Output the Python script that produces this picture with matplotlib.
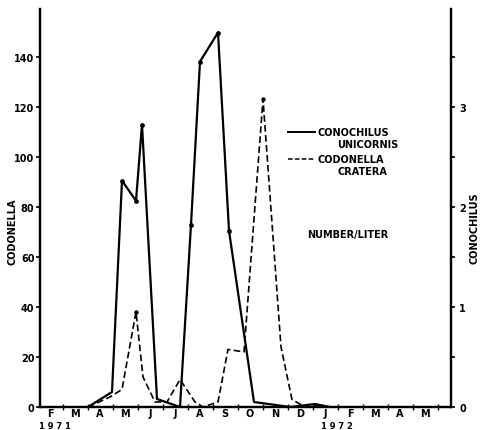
import matplotlib
matplotlib.use('Agg')
from matplotlib import pyplot as plt

# months counted from 1 Jan 1971 (fractional)
cono_t = [3.02, 3.98, 4.38, 4.94, 5.18, 5.78, 6.70, 7.14, 7.50, 8.22, 8.66, 9.66, 11.10, 12.10, 12.70]
cono_n = [0.0, 0.15, 2.26, 2.06, 2.82, 0.08, 0.0, 1.82, 3.45, 3.74, 1.76, 0.05, 0.0, 0.03, 0.0]

codo_t = [3.02, 3.90, 4.38, 4.94, 5.22, 5.70, 6.18, 6.70, 7.30, 7.62, 8.22, 8.62, 9.26, 10.02, 10.74, 11.18, 11.70, 12.22, 12.70]
codo_n = [0, 4, 7, 38, 12, 2, 2, 11, 2, 0, 2, 23, 22, 123, 24, 3, 0, 0.5, 0]

month_letters = ['F', 'M', 'A', 'M', 'J', 'J', 'A', 'S', 'O', 'N', 'D', 'J', 'F', 'M', 'A', 'M']
left_ticks = [0, 20, 40, 60, 80, 100, 120, 140]
right_ticks = [0, 1, 2, 3]

font = dict(family='DejaVu Sans', fontweight='bold', fontsize=7)

fig = plt.figure(figsize=(4.83, 4.31), dpi=100)
ax1 = fig.add_axes([40/483, 23/431, 411/483, 398/431])
ax2 = ax1.twinx()

# codonella on the left axis (dashed)
ax1.plot(codo_t, codo_n, color='black', lw=1.2, ls=(0, (4, 2)),
         marker='o', ms=2.2, markevery=[3, 13])
# conochilus on the right axis (solid)
ax2.plot(cono_t, cono_n, color='black', lw=1.6,
         marker='o', ms=2.4, markevery=[2, 3, 4, 7, 8, 9, 10])

ax1.set_xlim(1.1, 17.54)
ax1.set_ylim(0, 159)
ax2.set_ylim(0, 3.975)

for sp in ['top']:
    ax1.spines[sp].set_visible(False)
    ax2.spines[sp].set_visible(False)
for ax in (ax1, ax2):
    for sp in ['left', 'right', 'bottom']:
        ax.spines[sp].set_linewidth(1.6)

ax1.set_yticks(left_ticks)
ax1.set_yticklabels([str(v) for v in left_ticks], **font)
ax1.tick_params(axis='y', direction='out', length=3, width=1.2, pad=1)

ax2.set_yticks([v / 2 for v in range(8)], minor=False)
ax2.set_yticklabels([str(int(v / 2)) if v % 2 == 0 else '' for v in range(8)], **font)
ax2.tick_params(axis='y', direction='out', length=3, width=1.2, pad=3)

ax1.set_xticks(list(range(2, 18)))
ax1.set_xticklabels([])
ax1.set_xticks([m + 1.5 for m in range(16)], minor=True)
ax1.set_xticklabels(month_letters, minor=True, **font)
ax1.tick_params(axis='x', which='major', direction='inout', length=4, width=1)
ax1.tick_params(axis='x', which='minor', length=0, pad=1)

year_font = dict(font, fontsize=6)
fig.text(55/483, 1 - 426.5/431, '1 9 7 1', ha='center', va='center', **year_font)
fig.text(337/483, 1 - 426.5/431, '1 9 7 2', ha='center', va='center', **year_font)

fig.text(13/483, 1 - 232/431, 'CODONELLA', rotation=90, ha='center', va='center', **font)
fig.text(475/483, 1 - 228/431, 'CONOCHILUS', rotation=90, ha='center', va='center', **font)

# legend drawn by hand
fig.lines.append(plt.Line2D([288/483, 315/483], [1 - 133/431] * 2, color='black', lw=1.4,
                            transform=fig.transFigure))
fig.lines.append(plt.Line2D([288/483, 315/483], [1 - 160/431] * 2, color='black', lw=1.1,
                            ls=(0, (3, 1.5)), transform=fig.transFigure))
fig.text(318/483, 1 - 133/431, 'CONOCHILUS', ha='left', va='center', **font)
fig.text(337/483, 1 - 145/431, 'UNICORNIS', ha='left', va='center', **font)
fig.text(318/483, 1 - 160/431, 'CODONELLA', ha='left', va='center', **font)
fig.text(337/483, 1 - 172/431, 'CRATERA', ha='left', va='center', **font)
fig.text(307/483, 1 - 235/431, 'NUMBER/LITER', ha='left', va='center', **font)

fig.savefig('out.png', dpi=100)
